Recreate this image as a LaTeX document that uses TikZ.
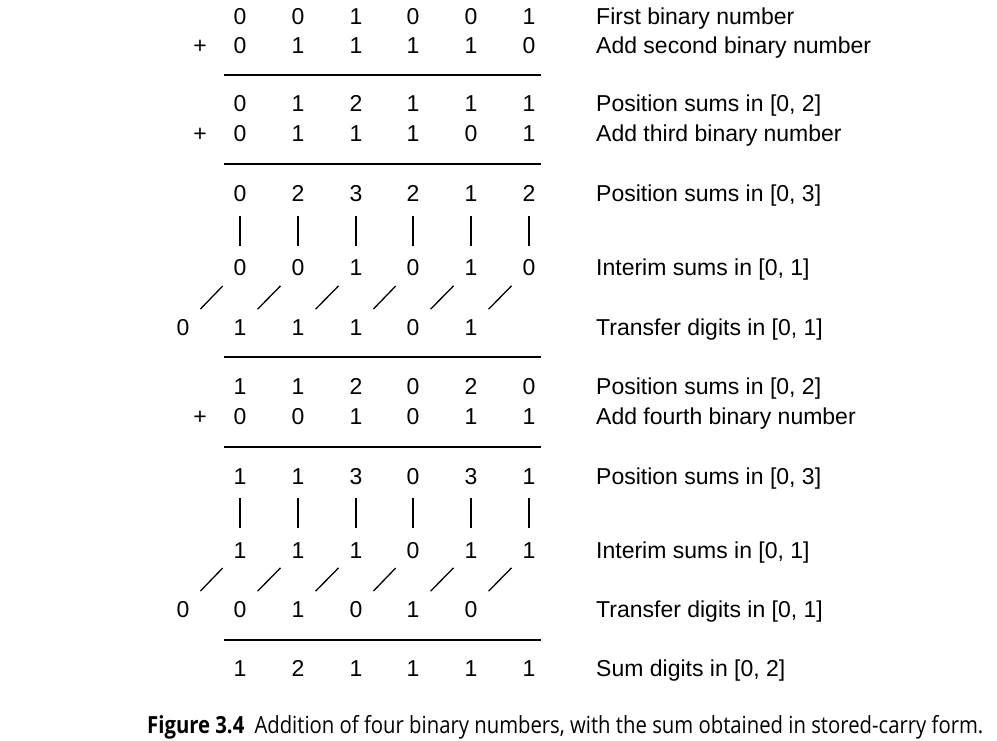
\documentclass[tikz,border=0pt]{standalone}
\usepackage{fontspec}
\setmainfont{Liberation Sans}
\newfontfamily\capfont{Open Sans}
\begin{document}
\begin{tikzpicture}[x=1pt,y=-1pt,
  digit/.style={inner sep=0pt,anchor=base,font=\fontsize{23}{26}\selectfont},
  lbl/.style={inner sep=0pt,anchor=base west,font=\fontsize{23}{26}\selectfont},
  rule/.style={line width=1.5pt},
  bar/.style={line width=1.3pt,shorten <=22pt,shorten >=22pt},
  slash/.style={line width=1.3pt,shorten <=25pt,shorten >=25pt}]
\useasboundingbox (0,0) rectangle (997,741);
\def\colx#1{\ifcase#1 183\or 240\or 298\or 356\or 413\or 471\or 529\fi}
\newcommand\digrow[4]{%
  \foreach \d [count=\c] in {#3} {\node[digit] (#1c\c) at (\colx{\c},#2+8) {\d};}
  \node[lbl] (#1l) at (596,#2+8) {#4};}
\newcommand\trow[4]{%
  \foreach \d [count=\c from 0] in {#3} {\node[digit] (#1c\c) at (\colx{\c},#2+8) {\d};}
  \node[lbl] (#1l) at (596,#2+8) {#4};}
\digrow{a}{17}{0,0,1,0,0,1}{First binary number}
\digrow{b}{46}{0,1,1,1,1,0}{Add second binary number}
\node[digit] (bp) at (200,54) {+};
\draw[rule] (224,75) -- (541,75);
\digrow{c}{104}{0,1,2,1,1,1}{Position sums in [0, 2]}
\digrow{d}{134}{0,1,1,1,0,1}{Add third binary number}
\node[digit] (dp) at (200,142) {+};
\draw[rule] (224,164) -- (541,164);
\digrow{e}{194}{0,2,3,2,1,2}{Position sums in [0, 3]}
\digrow{f}{268}{0,0,1,0,1,0}{Interim sums in [0, 1]}
\trow{g}{327}{0,1,1,1,0,1}{Transfer digits in [0, 1]}
\foreach \c in {1,...,6} {\draw[bar] (ec\c.center) -- (fc\c.center);}
\foreach \c [evaluate=\c as \p using int(\c-1)] in {1,...,6} {\draw[slash] (fc\c.center) -- (gc\p.center);}
\draw[rule] (224,357) -- (541,357);
\digrow{h}{386}{1,1,2,0,2,0}{Position sums in [0, 2]}
\digrow{i}{416}{0,0,1,0,1,1}{Add fourth binary number}
\node[digit] (ip) at (200,424) {+};
\draw[rule] (224,447) -- (541,447);
\digrow{j}{476}{1,1,3,0,3,1}{Position sums in [0, 3]}
\digrow{k}{550}{1,1,1,0,1,1}{Interim sums in [0, 1]}
\trow{m}{609}{0,0,1,0,1,0}{Transfer digits in [0, 1]}
\foreach \c in {1,...,6} {\draw[bar] (jc\c.center) -- (kc\c.center);}
\foreach \c [evaluate=\c as \p using int(\c-1)] in {1,...,6} {\draw[slash] (kc\c.center) -- (mc\p.center);}
\draw[rule] (224,640) -- (541,640);
\digrow{n}{668}{1,2,1,1,1,1}{Sum digits in [0, 2]}
\node[inner sep=0pt,anchor=base west,font=\capfont\fontsize{23.6}{28}\selectfont] (cap) at (147,733)
  {\scalebox{0.86}[1]{\textbf{Figure 3.4}\enspace Addition of four binary numbers, with the sum obtained in stored-carry form.}};
\end{tikzpicture}
\end{document}
